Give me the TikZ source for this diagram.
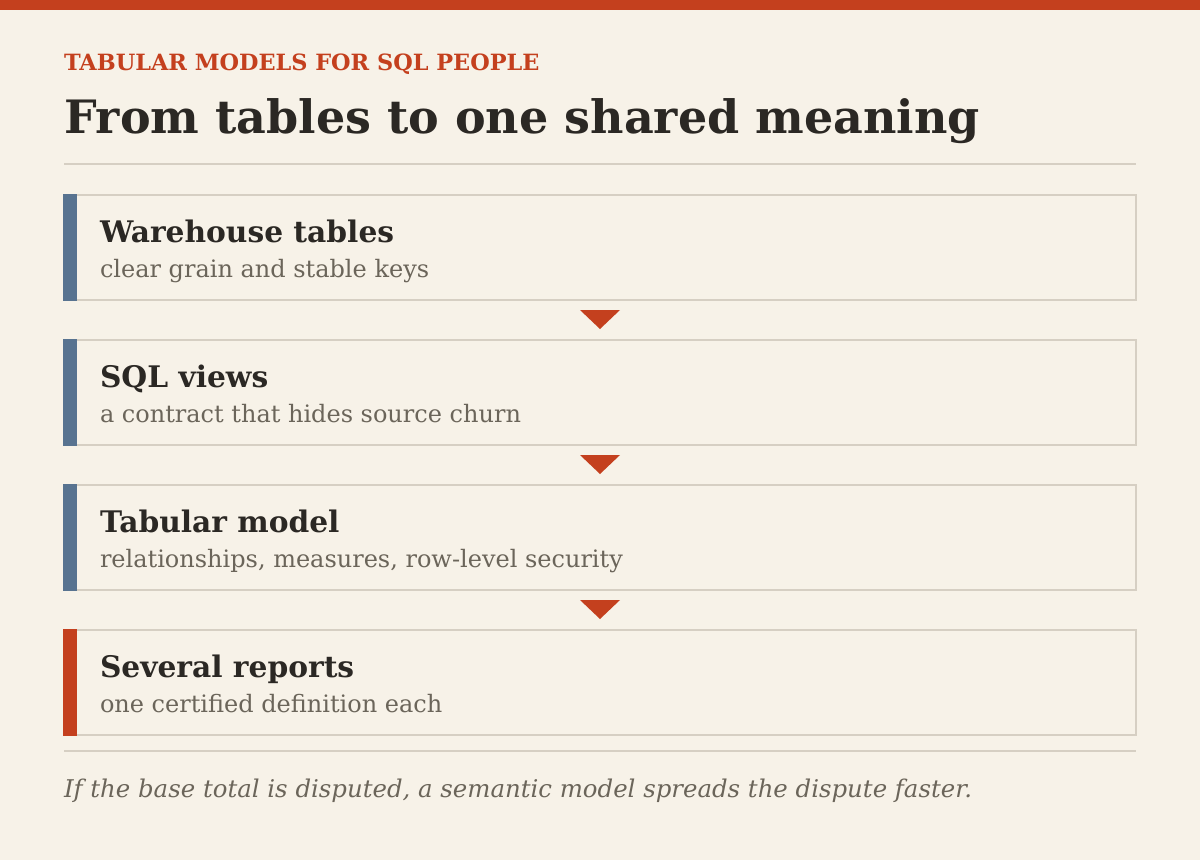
\documentclass[tikz,border=0pt]{standalone}
\usepackage{fontspec}
\setmainfont{DejaVu Serif}
\usetikzlibrary{calc}
\definecolor{bg}{HTML}{F7F2E8}
\definecolor{accent}{HTML}{C4401E}
\definecolor{slate}{HTML}{587390}
\definecolor{rulec}{HTML}{D6CFC3}
\definecolor{ink}{HTML}{2B2824}
\definecolor{muted}{HTML}{6B655A}
\tikzset{
  txt/.style={anchor=base west, inner sep=0pt, outer sep=0pt},
  stagebox/.style={draw=rulec, line width=2pt, fill=bg, minimum width=1072pt, minimum height=105pt, anchor=north west, inner sep=0pt, outer sep=0pt},
  headtxt/.style={txt, text=ink, font=\fontsize{29.7}{34}\selectfont\bfseries},
  subtxt/.style={txt, text=muted, font=\fontsize{24}{28}\selectfont},
  marker/.style={fill=accent, draw=none},
}
\begin{document}
\begin{tikzpicture}[x=1pt,y=-1pt]
\fill[bg] (0,0) rectangle (1200,860);
\useasboundingbox (0,0) rectangle (1200,860);
\fill[accent] (0,0) rectangle (1200,10);
\node[txt, text=accent, font=\fontsize{22.4}{26}\selectfont\bfseries] (kicker) at (64,70) {TABULAR MODELS FOR SQL PEOPLE};
\node[txt, text=ink, font=\fontsize{46}{52}\selectfont\bfseries] (title) at (64,133) {From tables to one shared meaning};
\draw[rulec, line width=2pt] (64,164) -- (1136,164);
\foreach \i/\y/\c/\h/\s in {1/195/slate/Warehouse tables/clear grain and stable keys,
                            2/340/slate/SQL views/a contract that hides source churn,
                            3/485/slate/Tabular model/{relationships, measures, row-level security},
                            4/630/accent/Several reports/one certified definition each}{
  \node[stagebox] (b\i) at (64,\y) {};
  \fill[\c] ($(b\i.north west)+(-1,-1)$) rectangle ($(b\i.south west)+(13,1)$);
  \node[headtxt] (h\i) at (100,\y+47) {\h};
  \node[subtxt] (s\i) at (100,\y+82) {\s};
}
\foreach \a in {1,2,3}{
  \fill[marker] ($(b\a.south)+(-20,10)$) -- ++(40,0) -- ($(b\a.south)+(0,29)$) -- cycle;
}
\draw[rulec, line width=2pt] (64,751) -- (1136,751);
\node[txt, text=muted, font=\fontsize{24.4}{28}\selectfont\itshape] (note) at (64,797) {If the base total is disputed, a semantic model spreads the dispute faster.};
\end{tikzpicture}
\end{document}
